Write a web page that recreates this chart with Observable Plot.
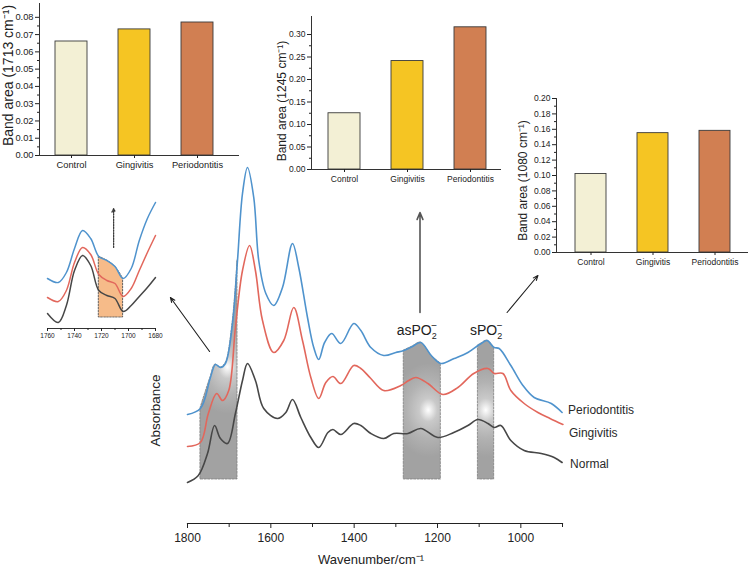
<!DOCTYPE html>
<html><head><meta charset="utf-8">
<script src="https://cdn.jsdelivr.net/npm/d3@7"></script>
<script src="https://cdn.jsdelivr.net/npm/@observablehq/plot@0.6"></script>
<style>
body{margin:0;background:#fff;}
#wrap{position:relative;width:750px;height:571px;overflow:hidden;background:#fff;}
#wrap svg{position:absolute;}
</style></head><body><div id="wrap"></div>
<script>
// ---------- main FTIR spectra ----------
const periodontitisWn = [1800,1769,1745,1733,1721,1709,1692,1680,1668,1656,1641,1629,1612,1593,1572,1548,1533,1512,1497,1485,1471,1454,1432,1401,1384,1360,1329,1300,1281,1260,1240,1215,1192,1160,1127,1103,1095,1081,1064,1052,1024,995,968,927,901];
const periodontitisAbs = [0.76,0.82,1.13,1.26,1.23,1.27,1.67,2.30,2.97,3.23,2.93,2.30,1.97,1.85,2.03,2.47,2.23,1.73,1.43,1.31,1.48,1.57,1.47,1.67,1.60,1.43,1.35,1.38,1.40,1.44,1.48,1.35,1.27,1.32,1.38,1.45,1.47,1.50,1.43,1.42,1.25,1.05,0.93,0.87,0.78];
const gingivitisWn = [1800,1769,1750,1730,1716,1701,1685,1668,1651,1637,1620,1593,1569,1545,1524,1504,1485,1468,1451,1432,1401,1384,1360,1329,1288,1269,1252,1223,1187,1151,1113,1079,1064,1043,1024,992,959,930,899];
const gingivitisAbs = [0.44,0.48,0.77,0.97,0.90,1.00,1.63,2.20,2.45,2.20,1.70,1.38,1.50,1.83,1.50,1.13,0.92,1.08,1.14,1.07,1.25,1.22,1.12,1.00,1.05,1.10,1.13,1.07,0.96,1.03,1.17,1.22,1.17,1.17,1.00,0.87,0.78,0.72,0.66];
const normalWn = [1800,1774,1752,1735,1721,1704,1685,1668,1656,1637,1617,1584,1564,1548,1528,1504,1485,1463,1451,1432,1401,1384,1360,1329,1305,1271,1240,1199,1161,1127,1103,1079,1064,1048,1024,992,951,920,901];
const normalAbs = [0.08,0.15,0.37,0.65,0.52,0.47,0.77,1.10,1.27,1.10,0.82,0.72,0.78,0.91,0.73,0.53,0.43,0.58,0.61,0.56,0.67,0.65,0.57,0.52,0.57,0.57,0.62,0.53,0.58,0.65,0.71,0.67,0.63,0.65,0.50,0.40,0.37,0.33,0.28];
const seriesNames = ["Periodontitis","Gingivitis","Normal"];
const mainTicks = [1800,1600,1400,1200,1000];
const mainMinorTicks = [1700,1500,1300,1100,900];

// shaded bands (wavenumber ranges) and their highlight spots
const bandLo = [1680, 1192, 1064];
const bandHi = [1769, 1281, 1103];
const bandBase = 0.11;
const bandGlowWn = [1703, 1221, 1083];
const bandGlowAbs = [1.23, 0.80, 0.80];
const bandLabels = ["", "asPO", "sPO"];
const bandLabelWn = [0, 1298, 1122];
const bandLabelAbs = [0, 1.60, 1.60];

// annotation arrows (wavenumber / absorbance units)
const arrowWn1 = [1747, 1242, 1033];
const arrowAbs1 = [1.39, 1.78, 1.78];
const arrowWn2 = [1841, 1242, 959];
const arrowAbs2 = [1.93, 2.78, 2.15];

// ---------- bar insets ----------
const barCategories = ["Control","Gingivitis","Periodontitis"];
const barColors = ["#f3f0d5","#f5c523","#d17f52"];
const area1713 = [0.066, 0.073, 0.077];
const area1245 = [0.125, 0.241, 0.316];
const area1080 = [0.102, 0.155, 0.158];
const ticks1713 = [0,0.01,0.02,0.03,0.04,0.05,0.06,0.07,0.08];
const ticks1245 = [0,0.05,0.10,0.15,0.20,0.25,0.30];
const ticks1080 = [0,0.02,0.04,0.06,0.08,0.10,0.12,0.14,0.16,0.18,0.20];

// ---------- zoomed 1760-1680 inset ----------
const zoomWn = [1760,1752,1746,1740,1734,1728,1722,1716,1710,1704,1698,1692,1686,1680];
const zoomPerio = [0.52,0.48,0.58,0.82,1.00,0.92,0.74,0.70,0.64,0.52,0.62,0.90,1.12,1.28];
const zoomGingi = [0.33,0.29,0.40,0.68,0.83,0.76,0.56,0.50,0.47,0.34,0.42,0.60,0.78,0.95];
const zoomNormal = [0.17,0.08,0.25,0.60,0.75,0.65,0.40,0.35,0.32,0.19,0.25,0.34,0.43,0.53];
const zoomTicks = [1760,1740,1720,1700,1680];
const zoomMinor = [1750,1730,1710,1690];
const zoomBoxLo = 1704, zoomBoxHi = 1722, zoomBoxBase = 0.13;
const zoomArrowWn = 1711, zoomArrowFrom = 0.83, zoomArrowTo = 1.22;

const FONT = "'Liberation Sans', Arial, Helvetica, sans-serif";
const BLUE = "#4f93cd", RED = "#e2675c", BLACK = "#474747";
const wrap = document.getElementById("wrap");

const toRows = (wn, ab) => wn.map((w, i) => ({wn: w, abs: ab[i]}));
const perio = toRows(periodontitisWn, periodontitisAbs);
const gingi = toRows(gingivitisWn, gingivitisAbs);
const normal = toRows(normalWn, normalAbs);
const seriesRows = [perio, gingi, normal];
const seriesColors = [BLUE, RED, BLACK];
const endLabelDx = [6, 6, 8], endLabelDy = [-2, 9, 2];

const bandMarks = bandLo.map((lo, i) =>
  Plot.areaY(perio.filter(d => d.wn >= lo && d.wn <= bandHi[i]), {
    x: "wn", y1: bandBase, y2: "abs", curve: "catmull-rom",
    fill: `url(#glow${i})`, stroke: "#7d7d7d", strokeWidth: 0.8, strokeDasharray: "2,1.5"
  }));

const arrows = arrowWn1.map((w, i) => ({x1: w, y1: arrowAbs1[i], x2: arrowWn2[i], y2: arrowAbs2[i], i}));
const labels = bandLabels.map((t, i) => ({t, wn: bandLabelWn[i], abs: bandLabelAbs[i]})).filter(d => d.t);

const main = Plot.plot({
  width: 750, height: 571,
  marginLeft: 187, marginRight: 188, marginTop: 297, marginBottom: 48,
  style: {background: "transparent", fontFamily: FONT, fontSize: "12px", color: "#222", overflow: "visible"},
  x: {domain: [1800, 900]},
  y: {domain: [0, 3.5], range: [490, 140], axis: null},
  marks: [
    ...bandMarks,
    ...seriesRows.map((rows, i) => Plot.line(rows, {x: "wn", y: "abs", stroke: seriesColors[i], strokeWidth: 1.6, curve: "catmull-rom"})),
    ...seriesRows.map((rows, i) => Plot.text([rows[rows.length - 1]], {x: "wn", y: "abs", text: () => seriesNames[i], textAnchor: "start", dx: endLabelDx[i], dy: endLabelDy[i], fontSize: 12, fill: "#2a2a2a"})),
    Plot.arrow(arrows.filter(d => d.i !== 1), {x1: "x1", y1: "y1", x2: "x2", y2: "y2", stroke: "#1f1f1f", strokeWidth: 1.1, headLength: 7, headAngle: 45}),
    Plot.arrow(arrows.filter(d => d.i === 1), {x1: "x1", y1: "y1", x2: "x2", y2: "y2", stroke: "#555", strokeWidth: 1.6, headLength: 7, headAngle: 45}),
    Plot.text(labels, {x: "wn", y: "abs", text: "t", textAnchor: "start", fontSize: 14, fill: "#222"}),
    Plot.frame({anchor: "bottom", stroke: "#222", strokeWidth: 1.2}),
    Plot.axisX({ticks: mainTicks, tickSize: 5, tickPadding: 5, fontSize: 12, label: null, tickFormat: d3.format("d")}),
    Plot.axisX({ticks: mainMinorTicks, tickSize: 4, tickFormat: () => "", label: null}),
    Plot.text(["Absorbance"], {frameAnchor: "left", textAnchor: "middle", rotate: -90, dx: -32, fontSize: 13.5, fill: "#222"}),
    Plot.text(["Wavenumber/cm\u207B\u00B9"], {frameAnchor: "bottom", dy: 40, dx: -4, fontSize: 13, fill: "#222"})
  ]
});
main.style.left = "0px"; main.style.top = "0px";
wrap.appendChild(main);

// gradients for the shaded bands
{
  const svg = d3.select(main);
  const xs = main.scale("x"), ys = main.scale("y");
  const defs = svg.insert("defs", ":first-child");
  const stops = [[0, "#ffffff"], [0.07, "#f0f0f0"], [0.25, "#c9c9c9"], [0.6, "#b2b2b2"], [1, "#a2a2a2"]];
  bandGlowWn.forEach((w, i) => {
    const cx = xs.apply(w), cy = ys.apply(bandGlowAbs[i]);
    const g = defs.append("radialGradient").attr("id", "glow" + i)
      .attr("gradientUnits", "userSpaceOnUse").attr("cx", cx).attr("cy", cy).attr("r", 36)
      .attr("gradientTransform", `translate(${cx},${cy}) scale(1,1.3) translate(${-cx},${-cy})`);
    stops.forEach(([o, c]) => g.append("stop").attr("offset", o).attr("stop-color", c));
  });
  // PO2- sub/superscripts
  svg.selectAll("text").filter(function() { return this.textContent === "asPO" || this.textContent === "sPO"; })
    .each(function() {
      const t = d3.select(this);
      t.append("tspan").attr("dy", "4").attr("font-size", 9).text("2");
      t.append("tspan").attr("dx", "-5.5").attr("dy", "-10").attr("font-size", 10).text("\u2212");
    });
}

// ---------- bar inset factory ----------
function barInset(cfg) {
  const data = barCategories.map((c, i) => ({cat: c, val: cfg.values[i]}));
  const minor = [];
  for (let k = 0; k < cfg.major.length - 1; k++) minor.push((cfg.major[k] + cfg.major[k + 1]) / 2);
  const p = Plot.plot({
    width: cfg.width, height: cfg.height,
    marginLeft: cfg.ml, marginRight: cfg.mr, marginTop: cfg.mt, marginBottom: cfg.mb,
    style: {background: "transparent", fontFamily: FONT, color: "#222", overflow: "visible"},
    x: {domain: barCategories, range: cfg.xRange, paddingInner: 0.5, paddingOuter: cfg.po},
    y: {domain: cfg.yDomain},
    color: {domain: barCategories, range: barColors},
    marks: [
      Plot.barY(data, {x: "cat", y: "val", fill: "cat", stroke: "#3a3a3a", strokeWidth: 0.9}),
      Plot.frame({anchor: "left", stroke: "#333"}),
      Plot.frame({anchor: "bottom", stroke: "#333"}),
      Plot.axisY({ticks: cfg.major, tickSize: 4, tickPadding: 2, tickFormat: d3.format(".2f"), fontSize: cfg.fs, label: null}),
      Plot.axisY({ticks: minor, tickSize: 2, tickFormat: () => "", label: null}),
      Plot.axisX({tickSize: 3, tickPadding: 3, fontSize: cfg.fs, label: null}),
      Plot.text([cfg.label], {frameAnchor: "left", textAnchor: "middle", rotate: -90, dx: cfg.ldx, dy: cfg.ldy, fontSize: cfg.lfs, fill: "#222"})
    ]
  });
  p.style.left = cfg.left + "px"; p.style.top = cfg.top + "px";
  wrap.appendChild(p);
}

barInset({values: area1713, major: ticks1713, left: 0, top: 0, width: 245, height: 180,
  ml: 39, mr: 7, mt: 3, mb: 25, xRange: [39, 229], po: 0.245, yDomain: [0, 0.088],
  fs: 9.3, label: "Band area (1713 cm\u207B\u00B9)", ldx: -31, ldy: -4, lfs: 14});
barInset({values: area1245, major: ticks1245, left: 250, top: 0, width: 255, height: 190,
  ml: 61, mr: 5, mt: 16, mb: 21, xRange: [61, 252], po: 0.254, yDomain: [0, 0.34],
  fs: 8.5, label: "Band area (1245 cm\u207B\u00B9)", ldx: -29, ldy: 8, lfs: 12});
barInset({values: area1080, major: ticks1080, left: 500, top: 80, width: 250, height: 195,
  ml: 56, mr: 3, mt: 18, mb: 23, xRange: [56, 248], po: 0.274, yDomain: [0, 0.2],
  fs: 8.5, label: "Band area (1080 cm\u207B\u00B9)", ldx: -33, ldy: 5, lfs: 12});

// ---------- zoomed spectrum inset ----------
{
  const zp = toRows(zoomWn, zoomPerio), zg = toRows(zoomWn, zoomGingi), zn = toRows(zoomWn, zoomNormal);
  const box = zp.filter(d => d.wn >= zoomBoxLo && d.wn <= zoomBoxHi);
  const z = Plot.plot({
    width: 140, height: 160, marginLeft: 17, marginRight: 15, marginTop: 0, marginBottom: 22,
    style: {background: "transparent", fontFamily: FONT, color: "#222", overflow: "visible"},
    x: {domain: [1760, 1680]},
    y: {domain: [0, 1.4], range: [140, 0], axis: null},
    marks: [
      Plot.areaY(box, {x: "wn", y1: zoomBoxBase, y2: "abs", curve: "catmull-rom", fill: "#f5b47c", fillOpacity: 0.9, stroke: "#555", strokeWidth: 0.9, strokeDasharray: "1.5,1.5"}),
      Plot.line(zp, {x: "wn", y: "abs", stroke: BLUE, strokeWidth: 1.5, curve: "catmull-rom"}),
      Plot.line(zg, {x: "wn", y: "abs", stroke: RED, strokeWidth: 1.5, curve: "catmull-rom"}),
      Plot.line(zn, {x: "wn", y: "abs", stroke: BLACK, strokeWidth: 1.5, curve: "catmull-rom"}),
      Plot.arrow([{}], {x1: zoomArrowWn, y1: zoomArrowFrom, x2: zoomArrowWn, y2: zoomArrowTo, stroke: "#333", strokeWidth: 1.2, strokeDasharray: "1.5,1.2", headLength: 5, headAngle: 50}),
      Plot.frame({anchor: "bottom", stroke: "#333"}),
      Plot.axisX({ticks: zoomTicks, tickSize: 3, tickPadding: 2, fontSize: 6.5, label: null, tickFormat: d3.format("d")}),
      Plot.axisX({ticks: zoomMinor, tickSize: 2, tickFormat: () => "", label: null})
    ]
  });
  z.style.left = "30px"; z.style.top = "190px";
  wrap.appendChild(z);
}
</script>
</body></html>
